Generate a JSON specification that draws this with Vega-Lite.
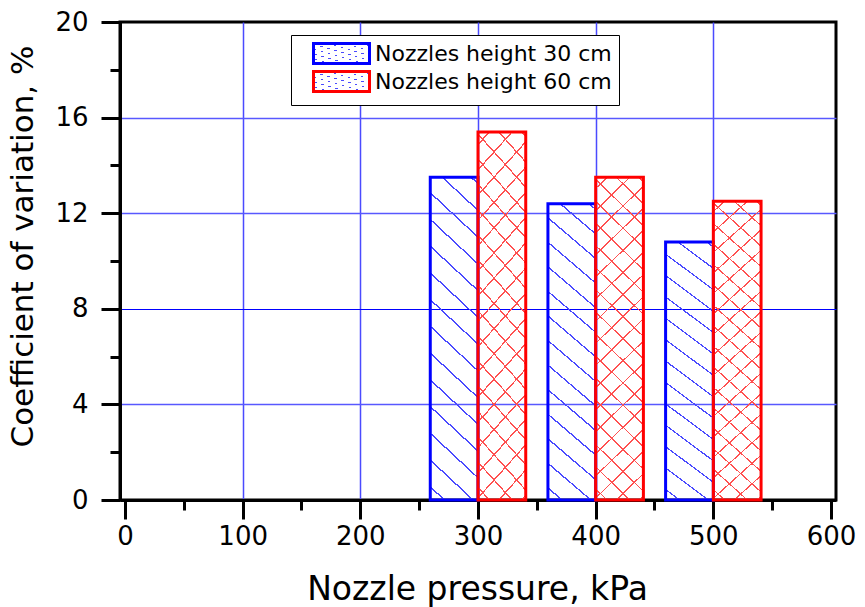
{
  "$schema": "https://vega.github.io/schema/vega-lite/v6.json",
  "width": 716,
  "height": 478,
  "autosize": "none",
  "padding": {"left": 120, "top": 22, "right": 29, "bottom": 107},
  "background": "white",
  "data": {
    "values": [
      {"pressure": 300, "series": "Nozzles height 30 cm", "cv": 13.5},
      {"pressure": 400, "series": "Nozzles height 30 cm", "cv": 12.4},
      {"pressure": 500, "series": "Nozzles height 30 cm", "cv": 10.8},
      {"pressure": 300, "series": "Nozzles height 60 cm", "cv": 15.4},
      {"pressure": 400, "series": "Nozzles height 60 cm", "cv": 13.5},
      {"pressure": 500, "series": "Nozzles height 60 cm", "cv": 12.5}
    ]
  },
  "encoding": {
    "x": {
      "field": "pressure",
      "type": "quantitative",
      "scale": {"domain": [0, 600], "nice": false, "zero": false},
      "axis": {
        "values": [0, 50, 100, 150, 200, 250, 300, 350, 400, 450, 500, 550, 600],
        "labelExpr": "datum.value % 100 === 0 ? datum.label : ''",
        "labelFlush": false,
        "title": "Nozzle pressure, kPa",
        "titleX": 357,
        "titleY": 99,
        "titleAlign": "center",
        "titleBaseline": "alphabetic",
        "titleFontSize": 33,
        "labelPadding": 4,
        "tickSize": {"condition": {"test": "datum.value % 100 === 0", "value": 19}, "value": 10},
        "gridOpacity": {"condition": {"test": "datum.value % 100 === 0 && datum.value > 0 && datum.value < 600", "value": 1}, "value": 0},
        "gridColor": "#4a4aff",
        "gridWidth": 1.5
      }
    },
    "y": {
      "field": "cv",
      "type": "quantitative",
      "scale": {"domain": [0, 20], "nice": false},
      "axis": {
        "values": [0, 2, 4, 6, 8, 10, 12, 14, 16, 18, 20],
        "labelExpr": "datum.value % 4 === 0 ? datum.label : ''",
        "labelFlush": false,
        "title": "Coefficient of variation, %",
        "titleAngle": 270,
        "titleX": -88,
        "titleY": 224,
        "titleAlign": "center",
        "titleBaseline": "alphabetic",
        "titleFontSize": 31,
        "labelPadding": 13,
        "tickSize": {"condition": {"test": "datum.value % 4 === 0", "value": 19}, "value": 10},
        "gridOpacity": {"condition": {"test": "datum.value % 4 === 0 && datum.value > 0 && datum.value < 20", "value": 1}, "value": 0},
        "gridColor": {"condition": {"test": "datum.value === 8", "value": "#0000ff"}, "value": "#5858ff"},
        "gridWidth": {"condition": {"test": "datum.value === 8", "value": 1}, "value": 1.6}
      }
    }
  },
  "layer": [
    {
      "transform": [{"filter": "datum.series === 'Nozzles height 30 cm'"}],
      "mark": {
        "type": "bar",
        "orient": "vertical",
        "width": 47.73,
        "xOffset": -23.87,
        "strokeWidth": 3,
        "strokeJoin": "miter",
        "fill": {
          "gradient": "linear", "x1": 0, "y1": 1, "x2": 0.154, "y2": -0.117,
          "stops": [
            {"offset": 0, "color": "rgba(74,74,255,0)"},
            {"offset": 0.0334, "color": "rgba(74,74,255,0)"}, {"offset": 0.0334, "color": "#4a4aff"}, {"offset": 0.0386, "color": "#4a4aff"}, {"offset": 0.0386, "color": "rgba(74,74,255,0)"},
            {"offset": 0.1062, "color": "rgba(74,74,255,0)"}, {"offset": 0.1062, "color": "#4a4aff"}, {"offset": 0.1114, "color": "#4a4aff"}, {"offset": 0.1114, "color": "rgba(74,74,255,0)"},
            {"offset": 0.179, "color": "rgba(74,74,255,0)"}, {"offset": 0.179, "color": "#4a4aff"}, {"offset": 0.1842, "color": "#4a4aff"}, {"offset": 0.1842, "color": "rgba(74,74,255,0)"},
            {"offset": 0.2518, "color": "rgba(74,74,255,0)"}, {"offset": 0.2518, "color": "#4a4aff"}, {"offset": 0.257, "color": "#4a4aff"}, {"offset": 0.257, "color": "rgba(74,74,255,0)"},
            {"offset": 0.3246, "color": "rgba(74,74,255,0)"}, {"offset": 0.3246, "color": "#4a4aff"}, {"offset": 0.3298, "color": "#4a4aff"}, {"offset": 0.3298, "color": "rgba(74,74,255,0)"},
            {"offset": 0.3974, "color": "rgba(74,74,255,0)"}, {"offset": 0.3974, "color": "#4a4aff"}, {"offset": 0.4026, "color": "#4a4aff"}, {"offset": 0.4026, "color": "rgba(74,74,255,0)"},
            {"offset": 0.4702, "color": "rgba(74,74,255,0)"}, {"offset": 0.4702, "color": "#4a4aff"}, {"offset": 0.4754, "color": "#4a4aff"}, {"offset": 0.4754, "color": "rgba(74,74,255,0)"},
            {"offset": 0.543, "color": "rgba(74,74,255,0)"}, {"offset": 0.543, "color": "#4a4aff"}, {"offset": 0.5482, "color": "#4a4aff"}, {"offset": 0.5482, "color": "rgba(74,74,255,0)"},
            {"offset": 0.6158, "color": "rgba(74,74,255,0)"}, {"offset": 0.6158, "color": "#4a4aff"}, {"offset": 0.621, "color": "#4a4aff"}, {"offset": 0.621, "color": "rgba(74,74,255,0)"},
            {"offset": 0.6886, "color": "rgba(74,74,255,0)"}, {"offset": 0.6886, "color": "#4a4aff"}, {"offset": 0.6938, "color": "#4a4aff"}, {"offset": 0.6938, "color": "rgba(74,74,255,0)"},
            {"offset": 0.7614, "color": "rgba(74,74,255,0)"}, {"offset": 0.7614, "color": "#4a4aff"}, {"offset": 0.7666, "color": "#4a4aff"}, {"offset": 0.7666, "color": "rgba(74,74,255,0)"},
            {"offset": 0.8342, "color": "rgba(74,74,255,0)"}, {"offset": 0.8342, "color": "#4a4aff"}, {"offset": 0.8394, "color": "#4a4aff"}, {"offset": 0.8394, "color": "rgba(74,74,255,0)"},
            {"offset": 0.907, "color": "rgba(74,74,255,0)"}, {"offset": 0.907, "color": "#4a4aff"}, {"offset": 0.9122, "color": "#4a4aff"}, {"offset": 0.9122, "color": "rgba(74,74,255,0)"},
            {"offset": 0.9798, "color": "rgba(74,74,255,0)"}, {"offset": 0.9798, "color": "#4a4aff"}, {"offset": 0.985, "color": "#4a4aff"}, {"offset": 0.985, "color": "rgba(74,74,255,0)"},
            {"offset": 1, "color": "rgba(74,74,255,0)"}
          ]
        }
      },
      "encoding": {
        "stroke": {
          "field": "series",
          "type": "nominal",
          "scale": {"domain": ["Nozzles height 30 cm", "Nozzles height 60 cm"], "range": ["#0000ff", "#ff0000"]},
          "legend": {
            "title": null,
            "orient": "none",
            "legendX": 171,
            "legendY": 13,
            "fillColor": "white",
            "strokeColor": "black",
            "padding": 7,
            "rowPadding": -6,
            "symbolType": "M-2.8,-1L2.8,-1L2.8,1L-2.8,1Z",
            "symbolSize": 400,
            "symbolOffset": 32,
            "symbolStrokeWidth": 3,
            "labelOffset": 22,
            "labelFont": "DejaVu Sans",
            "labelFontSize": 22,
            "labelColor": "black",
            "labelLimit": 0,
            "encode": {
              "legend": {"update": {"strokeWidth": {"value": 2}, "width": {"value": 358}, "height": {"value": 48}}},
              "symbols": {
                "update": {
                  "fill": [
                    {"test": "datum.value === 'Nozzles height 30 cm'", "value": {
                      "gradient": "linear", "x1": 0, "y1": 1, "x2": 1.2075, "y2": 0.4862,
                      "stops": [
                        {"offset": 0, "color": "rgba(74,74,255,0)"},
                        {"offset": 0.18, "color": "rgba(74,74,255,0)"}, {"offset": 0.18, "color": "#4a4aff"}, {"offset": 0.22, "color": "#4a4aff"}, {"offset": 0.22, "color": "rgba(74,74,255,0)"},
                        {"offset": 0.53, "color": "rgba(74,74,255,0)"}, {"offset": 0.53, "color": "#4a4aff"}, {"offset": 0.57, "color": "#4a4aff"}, {"offset": 0.57, "color": "rgba(74,74,255,0)"},
                        {"offset": 0.88, "color": "rgba(74,74,255,0)"}, {"offset": 0.88, "color": "#4a4aff"}, {"offset": 0.92, "color": "#4a4aff"}, {"offset": 0.92, "color": "rgba(74,74,255,0)"},
                        {"offset": 1, "color": "rgba(74,74,255,0)"}
                      ]
                    }},
                    {"value": {
                      "gradient": "linear", "x1": 0, "y1": 1, "x2": 1.204, "y2": 0.57,
                      "stops": [
                        {"offset": 0, "color": "rgba(255,80,80,0)"},
                        {"offset": 0.13, "color": "rgba(255,80,80,0)"}, {"offset": 0.13, "color": "#ff5050"}, {"offset": 0.17, "color": "#ff5050"}, {"offset": 0.17, "color": "rgba(255,80,80,0)"},
                        {"offset": 0.43, "color": "rgba(255,80,80,0)"}, {"offset": 0.43, "color": "#ff5050"}, {"offset": 0.47, "color": "#ff5050"}, {"offset": 0.47, "color": "rgba(255,80,80,0)"},
                        {"offset": 0.73, "color": "rgba(255,80,80,0)"}, {"offset": 0.73, "color": "#ff5050"}, {"offset": 0.77, "color": "#ff5050"}, {"offset": 0.77, "color": "rgba(255,80,80,0)"},
                        {"offset": 1, "color": "rgba(255,80,80,0)"}
                      ]
                    }}
                  ]
                }
              }
            }
          }
        }
      }
    },
    {
      "transform": [{"filter": "datum.series === 'Nozzles height 60 cm'"}],
      "mark": {
        "type": "bar",
        "orient": "vertical",
        "width": 47.73,
        "xOffset": 23.87,
        "strokeWidth": 0,
        "fill": {
          "gradient": "linear", "x1": 0, "y1": 1, "x2": 0.162, "y2": -0.1211,
          "stops": [
            {"offset": 0, "color": "rgba(255,80,80,0)"},
            {"offset": 0.0277, "color": "rgba(255,80,80,0)"}, {"offset": 0.0277, "color": "#ff5050"}, {"offset": 0.0323, "color": "#ff5050"}, {"offset": 0.0323, "color": "rgba(255,80,80,0)"},
            {"offset": 0.0876, "color": "rgba(255,80,80,0)"}, {"offset": 0.0876, "color": "#ff5050"}, {"offset": 0.0922, "color": "#ff5050"}, {"offset": 0.0922, "color": "rgba(255,80,80,0)"},
            {"offset": 0.1475, "color": "rgba(255,80,80,0)"}, {"offset": 0.1475, "color": "#ff5050"}, {"offset": 0.1521, "color": "#ff5050"}, {"offset": 0.1521, "color": "rgba(255,80,80,0)"},
            {"offset": 0.2074, "color": "rgba(255,80,80,0)"}, {"offset": 0.2074, "color": "#ff5050"}, {"offset": 0.212, "color": "#ff5050"}, {"offset": 0.212, "color": "rgba(255,80,80,0)"},
            {"offset": 0.2673, "color": "rgba(255,80,80,0)"}, {"offset": 0.2673, "color": "#ff5050"}, {"offset": 0.2719, "color": "#ff5050"}, {"offset": 0.2719, "color": "rgba(255,80,80,0)"},
            {"offset": 0.3272, "color": "rgba(255,80,80,0)"}, {"offset": 0.3272, "color": "#ff5050"}, {"offset": 0.3318, "color": "#ff5050"}, {"offset": 0.3318, "color": "rgba(255,80,80,0)"},
            {"offset": 0.3871, "color": "rgba(255,80,80,0)"}, {"offset": 0.3871, "color": "#ff5050"}, {"offset": 0.3917, "color": "#ff5050"}, {"offset": 0.3917, "color": "rgba(255,80,80,0)"},
            {"offset": 0.447, "color": "rgba(255,80,80,0)"}, {"offset": 0.447, "color": "#ff5050"}, {"offset": 0.4516, "color": "#ff5050"}, {"offset": 0.4516, "color": "rgba(255,80,80,0)"},
            {"offset": 0.5069, "color": "rgba(255,80,80,0)"}, {"offset": 0.5069, "color": "#ff5050"}, {"offset": 0.5115, "color": "#ff5050"}, {"offset": 0.5115, "color": "rgba(255,80,80,0)"},
            {"offset": 0.5668, "color": "rgba(255,80,80,0)"}, {"offset": 0.5668, "color": "#ff5050"}, {"offset": 0.5714, "color": "#ff5050"}, {"offset": 0.5714, "color": "rgba(255,80,80,0)"},
            {"offset": 0.6267, "color": "rgba(255,80,80,0)"}, {"offset": 0.6267, "color": "#ff5050"}, {"offset": 0.6313, "color": "#ff5050"}, {"offset": 0.6313, "color": "rgba(255,80,80,0)"},
            {"offset": 0.6866, "color": "rgba(255,80,80,0)"}, {"offset": 0.6866, "color": "#ff5050"}, {"offset": 0.6912, "color": "#ff5050"}, {"offset": 0.6912, "color": "rgba(255,80,80,0)"},
            {"offset": 0.7465, "color": "rgba(255,80,80,0)"}, {"offset": 0.7465, "color": "#ff5050"}, {"offset": 0.7511, "color": "#ff5050"}, {"offset": 0.7511, "color": "rgba(255,80,80,0)"},
            {"offset": 0.8064, "color": "rgba(255,80,80,0)"}, {"offset": 0.8064, "color": "#ff5050"}, {"offset": 0.811, "color": "#ff5050"}, {"offset": 0.811, "color": "rgba(255,80,80,0)"},
            {"offset": 0.8663, "color": "rgba(255,80,80,0)"}, {"offset": 0.8663, "color": "#ff5050"}, {"offset": 0.8709, "color": "#ff5050"}, {"offset": 0.8709, "color": "rgba(255,80,80,0)"},
            {"offset": 0.9262, "color": "rgba(255,80,80,0)"}, {"offset": 0.9262, "color": "#ff5050"}, {"offset": 0.9308, "color": "#ff5050"}, {"offset": 0.9308, "color": "rgba(255,80,80,0)"},
            {"offset": 0.9861, "color": "rgba(255,80,80,0)"}, {"offset": 0.9861, "color": "#ff5050"}, {"offset": 0.9907, "color": "#ff5050"}, {"offset": 0.9907, "color": "rgba(255,80,80,0)"},
            {"offset": 1, "color": "rgba(255,80,80,0)"}
          ]
        }
      }
    },
    {
      "transform": [{"filter": "datum.series === 'Nozzles height 60 cm'"}],
      "mark": {
        "type": "bar",
        "orient": "vertical",
        "width": 47.73,
        "xOffset": 23.87,
        "strokeWidth": 3,
        "strokeJoin": "miter",
        "fill": {
          "gradient": "linear", "x1": 0, "y1": 0, "x2": 0.162, "y2": 1.1211,
          "stops": [
            {"offset": 0, "color": "rgba(255,80,80,0)"},
            {"offset": 0.0277, "color": "rgba(255,80,80,0)"}, {"offset": 0.0277, "color": "#ff5050"}, {"offset": 0.0323, "color": "#ff5050"}, {"offset": 0.0323, "color": "rgba(255,80,80,0)"},
            {"offset": 0.0876, "color": "rgba(255,80,80,0)"}, {"offset": 0.0876, "color": "#ff5050"}, {"offset": 0.0922, "color": "#ff5050"}, {"offset": 0.0922, "color": "rgba(255,80,80,0)"},
            {"offset": 0.1475, "color": "rgba(255,80,80,0)"}, {"offset": 0.1475, "color": "#ff5050"}, {"offset": 0.1521, "color": "#ff5050"}, {"offset": 0.1521, "color": "rgba(255,80,80,0)"},
            {"offset": 0.2074, "color": "rgba(255,80,80,0)"}, {"offset": 0.2074, "color": "#ff5050"}, {"offset": 0.212, "color": "#ff5050"}, {"offset": 0.212, "color": "rgba(255,80,80,0)"},
            {"offset": 0.2673, "color": "rgba(255,80,80,0)"}, {"offset": 0.2673, "color": "#ff5050"}, {"offset": 0.2719, "color": "#ff5050"}, {"offset": 0.2719, "color": "rgba(255,80,80,0)"},
            {"offset": 0.3272, "color": "rgba(255,80,80,0)"}, {"offset": 0.3272, "color": "#ff5050"}, {"offset": 0.3318, "color": "#ff5050"}, {"offset": 0.3318, "color": "rgba(255,80,80,0)"},
            {"offset": 0.3871, "color": "rgba(255,80,80,0)"}, {"offset": 0.3871, "color": "#ff5050"}, {"offset": 0.3917, "color": "#ff5050"}, {"offset": 0.3917, "color": "rgba(255,80,80,0)"},
            {"offset": 0.447, "color": "rgba(255,80,80,0)"}, {"offset": 0.447, "color": "#ff5050"}, {"offset": 0.4516, "color": "#ff5050"}, {"offset": 0.4516, "color": "rgba(255,80,80,0)"},
            {"offset": 0.5069, "color": "rgba(255,80,80,0)"}, {"offset": 0.5069, "color": "#ff5050"}, {"offset": 0.5115, "color": "#ff5050"}, {"offset": 0.5115, "color": "rgba(255,80,80,0)"},
            {"offset": 0.5668, "color": "rgba(255,80,80,0)"}, {"offset": 0.5668, "color": "#ff5050"}, {"offset": 0.5714, "color": "#ff5050"}, {"offset": 0.5714, "color": "rgba(255,80,80,0)"},
            {"offset": 0.6267, "color": "rgba(255,80,80,0)"}, {"offset": 0.6267, "color": "#ff5050"}, {"offset": 0.6313, "color": "#ff5050"}, {"offset": 0.6313, "color": "rgba(255,80,80,0)"},
            {"offset": 0.6866, "color": "rgba(255,80,80,0)"}, {"offset": 0.6866, "color": "#ff5050"}, {"offset": 0.6912, "color": "#ff5050"}, {"offset": 0.6912, "color": "rgba(255,80,80,0)"},
            {"offset": 0.7465, "color": "rgba(255,80,80,0)"}, {"offset": 0.7465, "color": "#ff5050"}, {"offset": 0.7511, "color": "#ff5050"}, {"offset": 0.7511, "color": "rgba(255,80,80,0)"},
            {"offset": 0.8064, "color": "rgba(255,80,80,0)"}, {"offset": 0.8064, "color": "#ff5050"}, {"offset": 0.811, "color": "#ff5050"}, {"offset": 0.811, "color": "rgba(255,80,80,0)"},
            {"offset": 0.8663, "color": "rgba(255,80,80,0)"}, {"offset": 0.8663, "color": "#ff5050"}, {"offset": 0.8709, "color": "#ff5050"}, {"offset": 0.8709, "color": "rgba(255,80,80,0)"},
            {"offset": 0.9262, "color": "rgba(255,80,80,0)"}, {"offset": 0.9262, "color": "#ff5050"}, {"offset": 0.9308, "color": "#ff5050"}, {"offset": 0.9308, "color": "rgba(255,80,80,0)"},
            {"offset": 0.9861, "color": "rgba(255,80,80,0)"}, {"offset": 0.9861, "color": "#ff5050"}, {"offset": 0.9907, "color": "#ff5050"}, {"offset": 0.9907, "color": "rgba(255,80,80,0)"},
            {"offset": 1, "color": "rgba(255,80,80,0)"}
          ]
        }
      },
      "encoding": {
        "stroke": {"field": "series", "type": "nominal"}
      }
    }
  ],
  "config": {
    "view": {"stroke": "black", "strokeWidth": 3},
    "font": "DejaVu Sans",
    "axis": {
      "domainColor": "black",
      "domainWidth": 3,
      "tickColor": "black",
      "tickWidth": 3,
      "labelFont": "DejaVu Sans",
      "labelFontSize": 26,
      "labelColor": "black",
      "titleFont": "DejaVu Sans",
      "titleFontWeight": "normal",
      "titleColor": "black",
      "grid": true
    }
  }
}
